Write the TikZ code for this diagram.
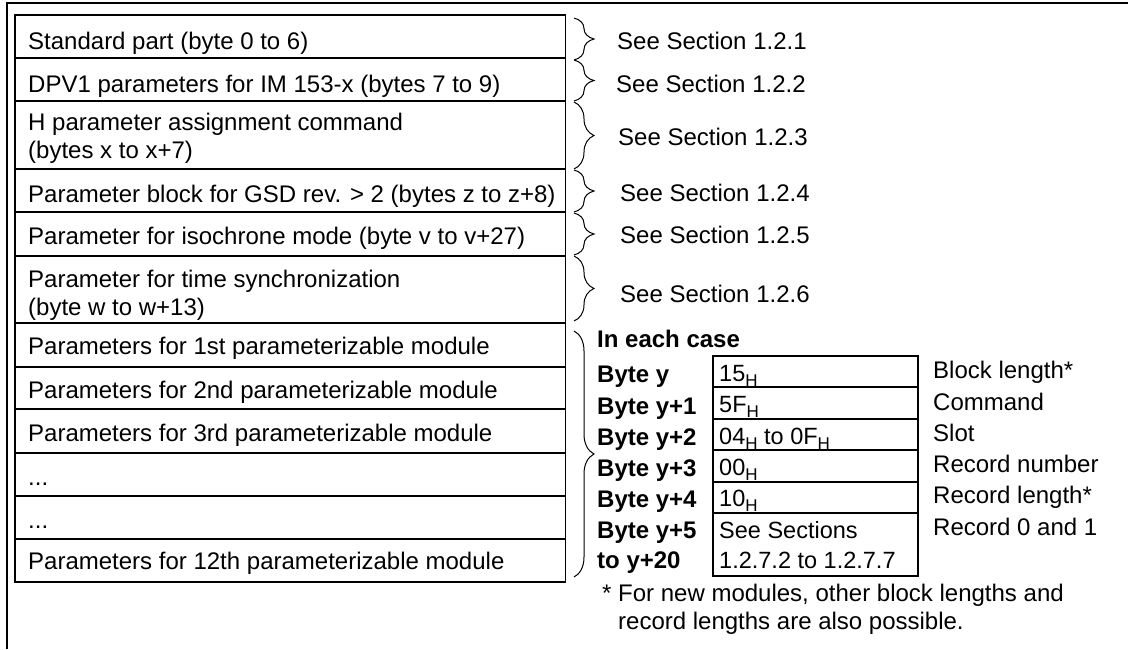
\documentclass[tikz,border=0pt]{standalone}
\usepackage{fontspec}
\setmainfont{Liberation Sans}
\usetikzlibrary{decorations.pathreplacing}
\newcommand{\hsub}{\raisebox{-5.5pt}{\fontsize{17}{17}\selectfont H}}
\begin{document}
\begin{tikzpicture}[x=1pt,y=-1pt,
  frame/.style={line width=1.3pt},
  row/.style={line width=1.5pt},
  lt/.style={anchor=base west, inner sep=0pt, font=\fontsize{24}{28}\selectfont},
  rt/.style={anchor=base west, inner sep=0pt, font=\fontsize{24}{28}\selectfont},
  ct/.style={anchor=base west, inner sep=0pt, font=\fontsize{23.5}{28}\selectfont},
  bt/.style={anchor=base west, inner sep=0pt, font=\fontsize{24}{28}\selectfont\bfseries},
  bracestyle/.style={line width=1pt, decorate, decoration={brace, amplitude=20pt}}]
\useasboundingbox (0,0) rectangle (1128,649);
% outer frame (top and left)
\coordinate (fl) at (7,649);
\coordinate (fc) at (7,3);
\coordinate (fr) at (1128,3);
\draw[frame] (fl) -- (fc) -- (fr);
% left table rows
\foreach \a/\b in {15/58,58/101,101/169,169/212,212/256,256/323,323/367,367/409,409/453,453/496,496/539,539/582}
  \draw[row] (15,\a) rectangle (565.5,\b);
\node[lt] (r1) at (28,49) {Standard part (byte 0 to 6)};
\node[lt] (r2) at (28,92) {DPV1 parameters for IM 153-x (bytes 7 to 9)};
\node[lt] (r3a) at (28,130) {H parameter assignment command};
\node[lt] (r3b) at (28,158) {(bytes x to x+7)};
\node[lt] (r4) at (28,202) {Parameter block for GSD rev. > 2 (bytes z to z+8)};
\node[lt] (r5) at (28,244) {Parameter for isochrone mode (byte v to v+27)};
\node[lt] (r6a) at (28,287) {Parameter for time synchronization};
\node[lt] (r6b) at (28,315) {(byte w to w+13)};
\node[lt] (r7) at (28,354) {Parameters for 1st parameterizable module};
\node[lt] (r8) at (28,398) {Parameters for 2nd parameterizable module};
\node[lt] (r9) at (28,441) {Parameters for 3rd parameterizable module};
\node[lt] (r10) at (28,485) {...};
\node[lt] (r11) at (28,528) {...};
\node[lt] (r12) at (28,569) {Parameters for 12th parameterizable module};
% braces
\foreach \a/\b in {18/60,60/101,102/169,170/212,213/255,256/321,331/577}
  \draw[bracestyle] (574,\a) -- (574,\b);
\node[rt] (s1) at (617,49) {See Section 1.2.1};
\node[rt] (s2) at (616,92) {See Section 1.2.2};
\node[rt] (s3) at (618,145) {See Section 1.2.3};
\node[rt] (s4) at (620,201) {See Section 1.2.4};
\node[rt] (s5) at (620,243) {See Section 1.2.5};
\node[rt] (s6) at (620,302) {See Section 1.2.6};
% detail block
\node[bt] (each) at (597,347) {In each case};
\foreach \a/\b in {356/387,387/419,419/450,450/482,482/513,513/576}
  \draw[row] (713,\a) rectangle (918,\b);
\node[bt] (b0) at (597,382) {Byte y};
\node[bt] (b1) at (597,414) {Byte y+1};
\node[bt] (b2) at (597,445) {Byte y+2};
\node[bt] (b3) at (597,476.5) {Byte y+3};
\node[bt] (b4) at (597,507) {Byte y+4};
\node[bt] (b5) at (597,538) {Byte y+5};
\node[bt] (b5b) at (597,568) {to y+20};
\node[ct] (v0) at (719,381) {15\hsub};
\node[ct] (v1) at (719,412) {5F\hsub};
\node[ct] (v2) at (719,444) {04\hsub{} to 0F\hsub};
\node[ct] (v3) at (719,475) {00\hsub};
\node[ct] (v4) at (719,506) {10\hsub};
\node[ct] (v5) at (719,538) {See Sections};
\node[ct] (v5b) at (719,568) {1.2.7.2 to 1.2.7.7};
\node[rt] (d0) at (933,378) {Block length*};
\node[rt] (d1) at (933,410) {Command};
\node[rt] (d2) at (933,441) {Slot};
\node[rt] (d3) at (933,472) {Record number};
\node[rt] (d4) at (933,503) {Record length*};
\node[rt] (d5) at (933,535) {Record 0 and 1};
\node[rt] (n1) at (602,601) {* For new modules, other block lengths and};
\node[rt] (n2) at (618,629) {record lengths are also possible.};
\end{tikzpicture}
\end{document}
